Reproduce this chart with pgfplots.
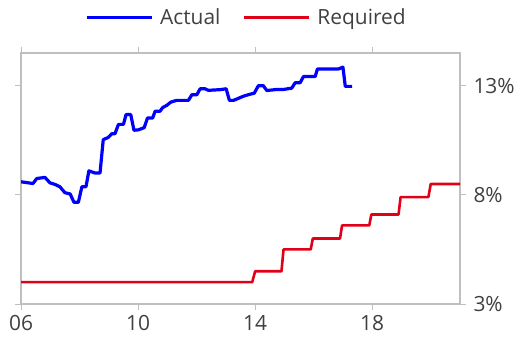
\documentclass[border=0pt]{standalone}
\usepackage{fontspec}
\setmainfont{Open Sans}
\usepackage{pgfplots}
\pgfplotsset{compat=1.18}
\definecolor{actual}{RGB}{0,0,255}
\definecolor{required}{RGB}{224,0,24}
\definecolor{axgrey}{RGB}{191,191,191}
\definecolor{txt}{RGB}{64,64,64}
\begin{document}
\begin{tikzpicture}[x=1bp,y=1bp]
\useasboundingbox (0,0) rectangle (528,345);
\begin{axis}[at={(21bp,41bp)}, anchor=south west, scale only axis,
  width=439bp, height=251bp,
  xmin=2006, xmax=2021, ymin=3, ymax=14.5,
  xtick={2006,2010,2014,2018}, xticklabels={06,10,14,18},
  ytick={3,8,13}, yticklabels={3\%,8\%,13\%},
  yticklabel pos=right,
  /pgf/number format/assume math mode=true,
  tick align=outside, major tick length=6bp,
  tick style={axgrey, line width=1bp},
  axis line style={axgrey, line width=1.2bp},
  every tick label/.append style={font=\fontsize{21}{25}\selectfont, text=txt},
  xticklabel style={yshift=-2bp},
  yticklabel style={xshift=4bp},
  legend style={at={(0.511,1.143)}, anchor=center, draw=none, fill=none,
    legend columns=2, font=\fontsize{21}{25}\selectfont, text=txt,
    nodes={inner sep=0pt},
    /tikz/every odd column/.append style={column sep=7bp},
    /tikz/every even column/.append style={column sep=22bp},
    inner sep=0pt},
  legend image code/.code={\draw[#1] (0bp,0bp) -- (65bp,0bp);},
]
\addlegendimage{actual, line width=3.2bp}
\addlegendentry{Actual}
\addlegendimage{required, line width=3bp}
\addlegendentry{Required}
\addplot[actual, line width=3.2bp, line join=round, forget plot] coordinates {
(2006.0,8.6) (2006.41,8.52) (2006.54,8.75) (2006.82,8.8) (2006.99,8.55)
(2007.16,8.48) (2007.33,8.37) (2007.50,8.1) (2007.68,8.04) (2007.81,7.66)
(2007.96,7.66) (2008.08,8.37) (2008.22,8.37) (2008.32,9.1) (2008.53,9.0)
(2008.70,9.0) (2008.81,10.53) (2008.98,10.63) (2009.10,10.8) (2009.21,10.8)
(2009.33,11.23) (2009.50,11.23) (2009.59,11.68) (2009.75,11.68) (2009.86,10.96)
(2010.01,10.98) (2010.21,11.08) (2010.32,11.52) (2010.50,11.52) (2010.58,11.83)
(2010.75,11.83) (2010.84,12.0) (2010.98,12.1) (2011.12,12.25) (2011.32,12.33)
(2011.72,12.33) (2011.84,12.59) (2012.01,12.59) (2012.12,12.86) (2012.29,12.86)
(2012.40,12.79) (2012.80,12.82) (2013.01,12.86) (2013.12,12.33) (2013.26,12.33)
(2013.39,12.4) (2013.58,12.51) (2013.77,12.59) (2013.97,12.66) (2014.11,13.0)
(2014.28,13.0) (2014.40,12.78) (2014.74,12.83) (2014.97,12.83) (2015.25,12.89)
(2015.37,13.14) (2015.54,13.14) (2015.65,13.42) (2016.05,13.42) (2016.13,13.77)
(2016.85,13.77) (2017.0,13.85) (2017.08,12.97) (2017.31,12.97)
};
\addplot[required, line width=2.6bp, line join=round, forget plot] coordinates {
(2006,4.0) (2013.9,4.0) (2014.0,4.5) (2014.9,4.5) (2014.97,5.5) (2015.9,5.5)
(2015.97,6.0) (2016.9,6.0) (2016.97,6.6) (2017.9,6.6) (2017.97,7.1)
(2018.9,7.1) (2018.97,7.9) (2019.92,7.9) (2020.0,8.5) (2021,8.5)
};
\end{axis}
\end{tikzpicture}
\end{document}
